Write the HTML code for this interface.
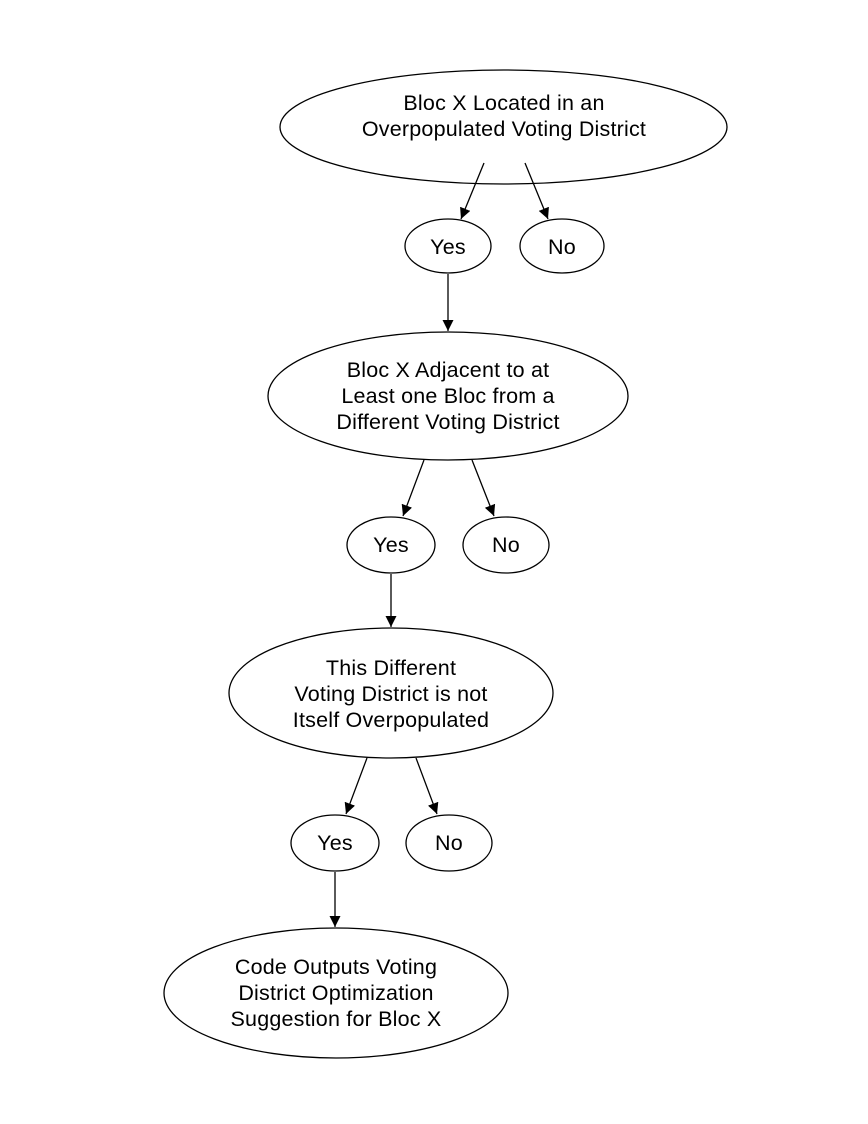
<!DOCTYPE html>
<html><head><meta charset="utf-8"><style>
html,body{margin:0;padding:0;background:#fff;}
svg{display:block;}
text{font-family:"Liberation Sans",Arial,sans-serif;font-size:21.5px;letter-spacing:0.2px;fill:#000;text-anchor:middle;}
</style></head><body>
<svg width="868" height="1124" viewBox="0 0 868 1124" xmlns="http://www.w3.org/2000/svg">
<defs><marker id="a" markerWidth="12" markerHeight="12" refX="11" refY="5.5" orient="auto" markerUnits="userSpaceOnUse"><path d="M0,0 L11,5.5 L0,11 Z" fill="#000"/></marker></defs>
<g fill="#fff" stroke="#000" stroke-width="1.3">
<ellipse cx="503.5" cy="127" rx="223.5" ry="57"/>
<ellipse cx="448" cy="246" rx="43" ry="27"/>
<ellipse cx="562" cy="246" rx="42" ry="27"/>
<ellipse cx="448" cy="396" rx="180" ry="64"/>
<ellipse cx="391" cy="545" rx="44" ry="28"/>
<ellipse cx="506" cy="545" rx="43" ry="28"/>
<ellipse cx="391" cy="693" rx="162" ry="65"/>
<ellipse cx="335" cy="843" rx="44" ry="28"/>
<ellipse cx="449" cy="843" rx="43" ry="28"/>
<ellipse cx="336" cy="993" rx="172" ry="65"/>
</g>
<g stroke="#000" stroke-width="1.3" marker-end="url(#a)">
<line x1="484" y1="163" x2="461" y2="219"/>
<line x1="525" y1="163" x2="548" y2="219"/>
<line x1="448" y1="274" x2="448" y2="331"/>
<line x1="424" y1="460" x2="403" y2="516"/>
<line x1="472" y1="460" x2="494" y2="516"/>
<line x1="391" y1="574" x2="391" y2="627"/>
<line x1="367" y1="758" x2="346" y2="814"/>
<line x1="416" y1="758" x2="437" y2="814"/>
<line x1="335" y1="872" x2="335" y2="927"/>
</g>
<text x="504" y="110">Bloc X Located in an</text>
<text x="504" y="136">Overpopulated Voting District</text>
<text x="448" y="254">Yes</text>
<text x="562" y="254">No</text>
<text x="448" y="377">Bloc X Adjacent to at</text>
<text x="448" y="403">Least one Bloc from a</text>
<text x="448" y="429">Different Voting District</text>
<text x="391" y="552">Yes</text>
<text x="506" y="552">No</text>
<text x="391" y="675">This Different</text>
<text x="391" y="701">Voting District is not</text>
<text x="391" y="727">Itself Overpopulated</text>
<text x="335" y="850">Yes</text>
<text x="449" y="850">No</text>
<text x="336" y="974">Code Outputs Voting</text>
<text x="336" y="1000">District Optimization</text>
<text x="336" y="1026">Suggestion for Bloc X</text>
</svg>
</body></html>
